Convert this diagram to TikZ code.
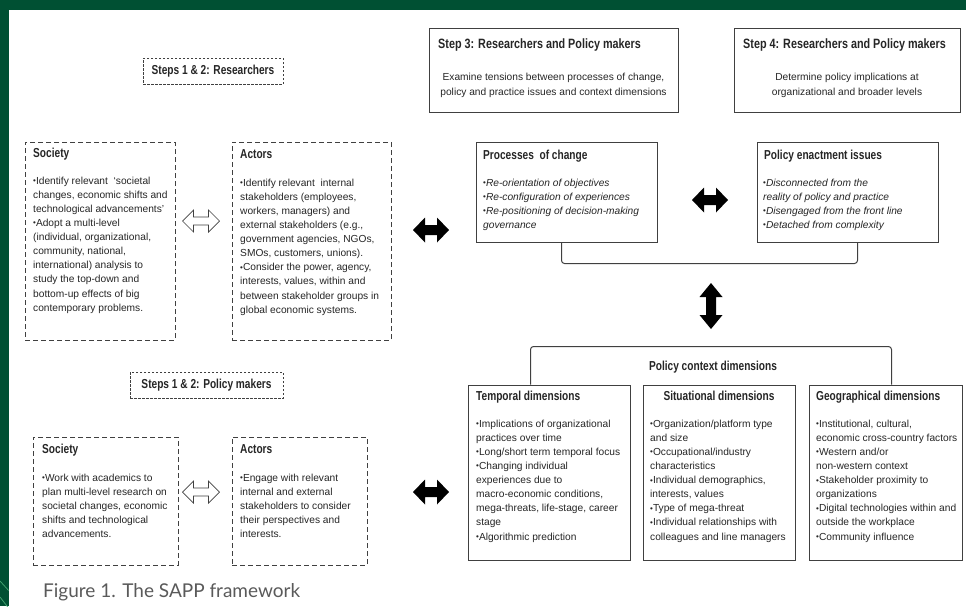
\documentclass[tikz,border=0pt]{standalone}
\usepackage{fontspec}
\setmainfont{Liberation Sans}
\newfontfamily\hdfont[FakeStretch=0.78]{Liberation Sans Bold}
\newfontfamily\stepfont[FakeStretch=0.8]{Liberation Sans Bold}
\newfontfamily\capfont{Lato}
\usetikzlibrary{fit,calc}
\definecolor{bggreen}{RGB}{0,80,51}
\definecolor{linegreen}{RGB}{70,165,115}
\definecolor{boxline}{RGB}{64,64,64}
\definecolor{txt}{RGB}{38,38,38}
\definecolor{captxt}{RGB}{90,90,90}
\newcommand{\mybul}{\raisebox{0.6pt}{\fontsize{8}{8}\selectfont •}}
\newcommand{\firststrut}{\rule{0pt}{10pt}}
\tikzset{
  boxsolid/.style={draw=boxline, line width=1pt, inner sep=0pt},
  boxdash/.style={draw=boxline, line width=1pt, dash pattern=on 5pt off 3pt, inner sep=0pt},
  boxdot/.style={draw=boxline, line width=0.9pt, dash pattern=on 2.5pt off 1.5pt, inner sep=0pt},
  hdtxt/.style={font=\hdfont\fontsize{13}{15}\selectfont, text=txt, inner sep=0pt},
  hdleft/.style={hdtxt, anchor=base west},
  stephd/.style={font=\stepfont\fontsize{13.5}{15}\selectfont, text=txt, inner sep=0pt, anchor=base west},
  bodytxt/.style={font=\fontsize{10.2}{14.1}\selectfont, text=txt, inner sep=0pt, align=left, anchor=north west},
  brk/.style={draw=boxline, line width=1pt, rounded corners=3pt},
  pics/dblarrow/.style n args={4}{code={
    \path[pic actions] (-#1,0) -- (-#1+#4,-#2) -- (-#1+#4,-#3) -- (#1-#4,-#3) -- (#1-#4,-#2) -- (#1,0)
      -- (#1-#4,#2) -- (#1-#4,#3) -- (-#1+#4,#3) -- (-#1+#4,#2) -- cycle;
  }},
}
\begin{document}
\begin{tikzpicture}[x=1pt,y=-1pt]
\useasboundingbox (0,0) rectangle (966,606);
\fill[white] (0,0) rectangle (966,606);
\fill[bggreen] (0,0) rectangle (966,10);
\fill[bggreen] (0,0) rectangle (8.5,606);
\begin{scope}
  \clip (0,0) rectangle (8.5,606);
  \draw[linegreen, line width=0.7pt] (0,581) -- (10,592);
  \draw[linegreen, line width=0.7pt] (0,597) -- (10,610);
\end{scope}

% ---------- Steps 1 & 2: Researchers ----------
\node[boxdot, fit={(143,58) (283,84)}] (stepsR) {};
\node[hdtxt] (stepsRt) at (stepsR.center) {Steps 1 \& 2: Researchers};

\node[boxdash, fit={(25,142) (175,340)}] (socT) {};
\node[hdleft] (socTh) at (33,157) {Society};
\node[bodytxt] (socTb) at (33,174) {\firststrut\mybul Identify relevant\ \ `societal\\
changes, economic shifts and\\
technological advancements'\\
\mybul Adopt a multi-level\\
(individual,\ organizational,\\
community, national,\\
international) analysis to\\
study the top-down and\\
bottom-up effects of big\\
contemporary problems.};

\node[boxdash, fit={(232,142) (391,340)}] (actT) {};
\node[hdleft] (actTh) at (240,158) {Actors};
\node[bodytxt] (actTb) at (240,176) {\firststrut\mybul Identify relevant\ \ internal\\
stakeholders (employees,\\
workers, managers) and\\
external stakeholders (e.g.,\\
government\ agencies, NGOs,\\
SMOs, customers, unions).\\
\mybul Consider the power, agency,\\
interests, values,\ within and\\
between stakeholder groups in\\
global economic systems.};

\pic[draw=boxline, line width=0.7pt, fill=white] (hollowT) at (201,221) {dblarrow={18.5}{11}{4}{11}};

% ---------- Steps 1 & 2: Policy makers ----------
\node[boxdot, fit={(130,372) (283,398)}] (stepsPM) {};
\node[hdtxt] (stepsPMt) at (stepsPM.center) {Steps 1 \& 2: Policy makers};

\node[boxdash, fit={(33,437) (178,565)}] (socB) {};
\node[hdleft] (socBh) at (42,453) {Society};
\node[bodytxt] (socBb) at (42,471) {\firststrut\mybul Work with academics to\\
plan multi-level research on\\
societal changes, economic\\
shifts and technological\\
advancements.};

\node[boxdash, fit={(232,437) (367,565)}] (actB) {};
\node[hdleft] (actBh) at (240,453) {Actors};
\node[bodytxt] (actBb) at (240,471) {\firststrut\mybul Engage with relevant\\
internal and external\\
stakeholders to consider\\
their perspectives\ and\\
interests.};

\pic[draw=boxline, line width=0.7pt, fill=white] (hollowB) at (201,492) {dblarrow={18.5}{11}{4}{11}};

% ---------- Step 3 and Step 4 ----------
\node[boxsolid, fit={(429,28) (678,112)}] (step3) {};
\node[stephd] (step3h) at (438,48) {Step 3: Researchers and Policy makers};
\node[bodytxt, anchor=north, align=center, font=\fontsize{10.2}{15}\selectfont] (step3b) at (553.5,70) {\firststrut Examine tensions between\ processes of change,\\
policy and practice issues and context dimensions};

\node[boxsolid, fit={(734,28) (960,112)}] (step4) {};
\node[stephd] (step4h) at (743,48) {Step 4: Researchers and Policy makers};
\node[bodytxt, anchor=north, align=center, font=\fontsize{10.2}{15}\selectfont] (step4b) at (847,70) {\firststrut Determine policy implications at\\
organizational\ and broader\ levels};

% ---------- Processes of change / Policy enactment ----------
\node[boxsolid, fit={(476,142) (657,242)}] (procC) {};
\node[hdleft] (procCh) at (483,159) {Processes\ \ of change};
\node[bodytxt] (procCb) at (483,176) {\firststrut\mybul\textit{Re-orientation\ of objectives}\\
\mybul\textit{Re-configuration\ of experiences}\\
\mybul\textit{Re-positioning\ of decision-making}\\
\textit{governance}};

\node[boxsolid, fit={(757,142) (938,242)}] (polE) {};
\node[hdleft] (polEh) at (764,159) {Policy enactment issues};
\node[bodytxt] (polEb) at (763,176) {\firststrut\mybul\textit{Disconnected from the}\\
\textit{reality of policy and practice}\\
\mybul\textit{Disengaged\ from the front line}\\
\mybul\textit{Detached from complexity}};

\pic[fill=black] (blkL1) at (431,230) {dblarrow={18}{12.5}{5}{12}};
\pic[fill=black] (blkM) at (710,200) {dblarrow={18}{12.5}{5}{12}};
\pic[fill=black] (blkL2) at (431,492) {dblarrow={18}{12.5}{5}{12}};

\draw[brk] ($(procC.south west)+(86,0)$) |- ($(polE.south east)+(-81,21)$) -- ($(polE.south east)+(-81,0)$);

\pic[fill=black, rotate=90] (blkV) at (711,306) {dblarrow={23}{11.5}{5}{14}};

% ---------- Policy context dimensions ----------
\node[boxsolid, fit={(468,385) (630,560)}] (temp) {};
\node[boxsolid, fit={(643,385) (795,560)}] (sit) {};
\node[boxsolid, fit={(809,385) (962,560)}] (geo) {};

\draw[brk] ($(temp.north west)+(63,0)$) |- ($(geo.north east)+(-71,-38)$) -- ($(geo.north east)+(-71,0)$);
\node[hdtxt] (pcd) at (713,367) {Policy context dimensions};

\node[hdleft] (temph) at (476,400) {Temporal dimensions};
\node[bodytxt] (tempb) at (476,417) {\firststrut\mybul Implications of organizational\\
practices over time\\
\mybul Long/short term temporal\ focus\\
\mybul Changing individual\\
experiences due to\\
macro-economic\ conditions,\\
mega-threats, life-stage,\ career\\
stage\\
\mybul Algorithmic prediction};

\node[hdtxt, anchor=base] (sith) at (719,400) {Situational dimensions};
\node[bodytxt] (sitb) at (650,417) {\firststrut\mybul Organization/platform\ type\\
and size\\
\mybul Occupational/industry\\
characteristics\\
\mybul Individual\ demographics,\\
interests, values\\
\mybul Type of mega-threat\\
\mybul Individual\ relationships with\\
colleagues and line managers};

\node[hdleft] (geoh) at (816,400) {Geographical dimensions};
\node[bodytxt] (geob) at (816,417) {\firststrut\mybul Institutional, cultural,\\
economic cross-country factors\\
\mybul Western and/or\\
non-western\ context\\
\mybul Stakeholder proximity to\\
organizations\\
\mybul Digital technologies within and\\
outside the workplace\\
\mybul Community influence};

% ---------- Caption ----------
\node[anchor=base west, inner sep=0pt, text=captxt, font=\capfont\fontsize{19}{22}\selectfont] (caption) at (43,597) {Figure 1. The SAPP framework};
\end{tikzpicture}
\end{document}
